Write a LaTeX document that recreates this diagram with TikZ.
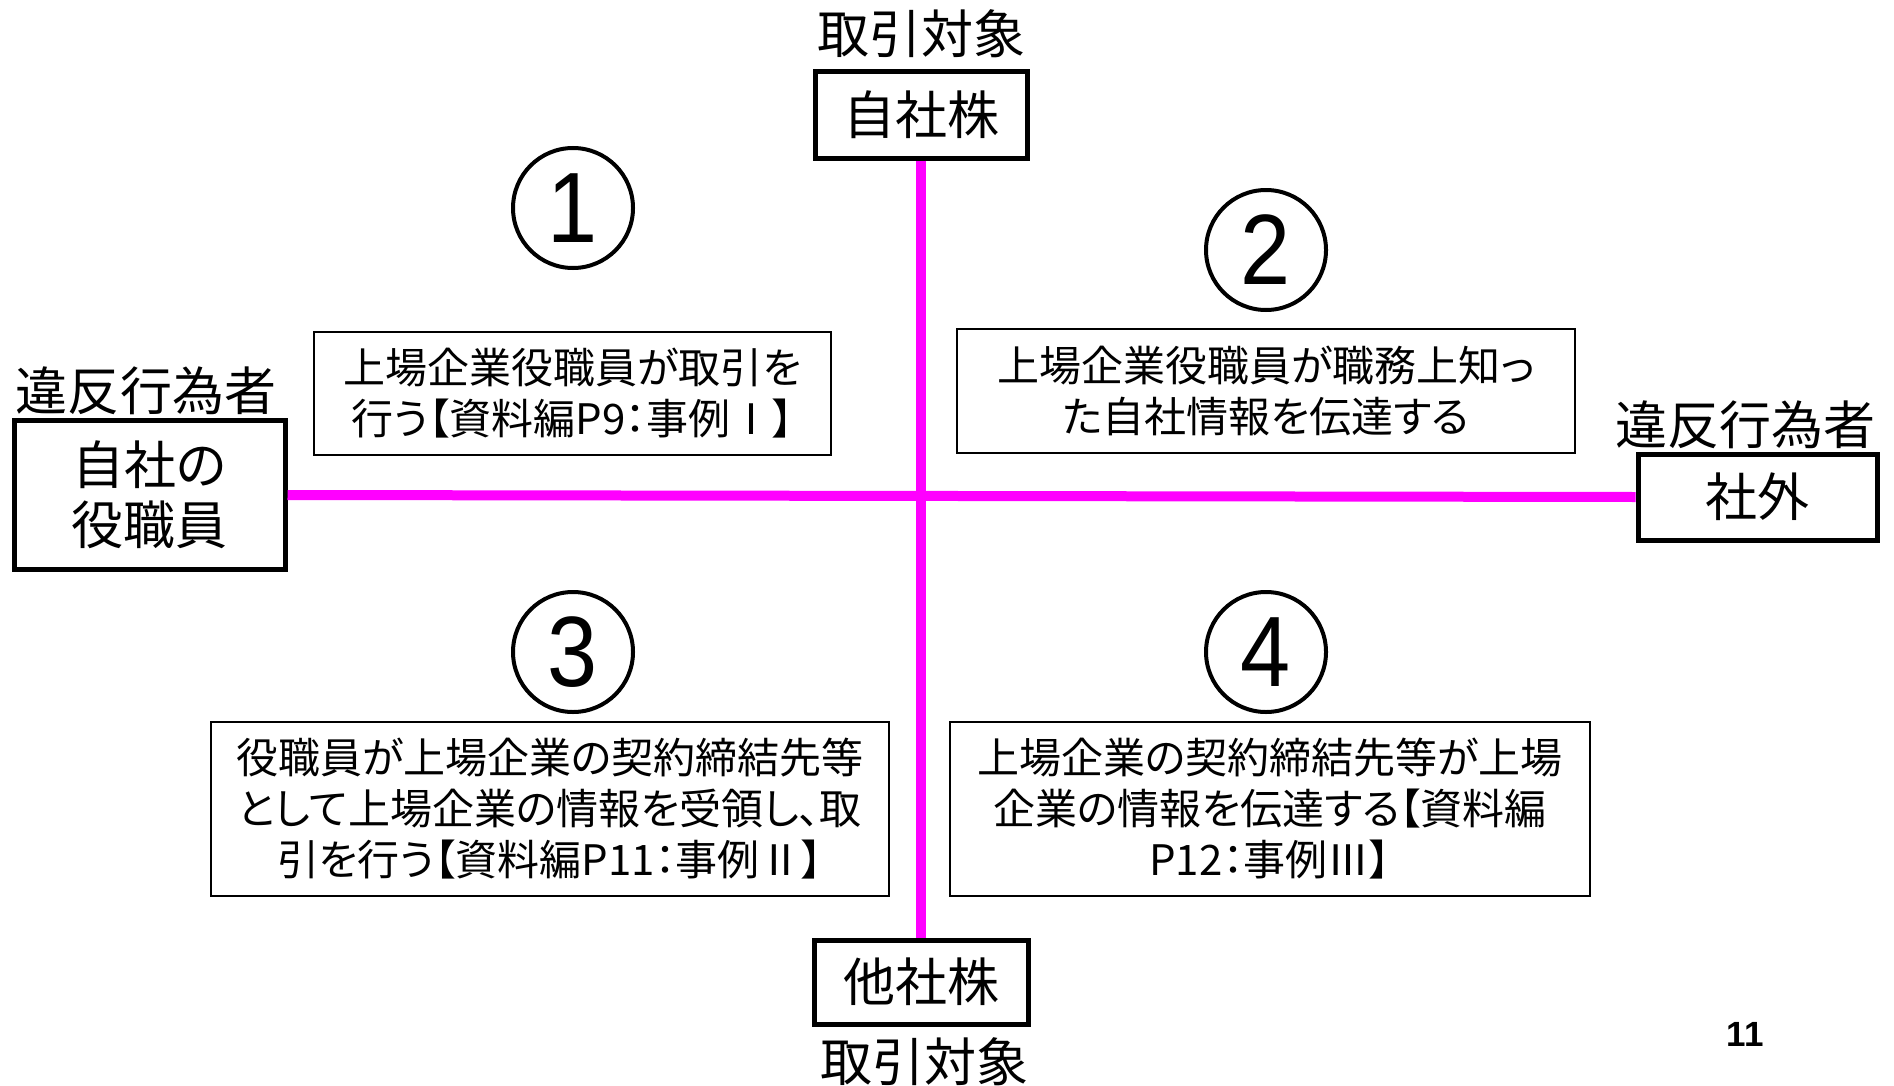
\documentclass[tikz,border=0pt]{standalone}
\usepackage{fontspec}
\setmainfont{Noto Sans CJK JP}[RawFeature=+palt]
\newfontfamily\latfont{Liberation Sans}
\newfontfamily\fullw{Noto Sans CJK JP}
\definecolor{mag}{HTML}{FF00FF}
\begin{document}
\begin{tikzpicture}[x=0.5pt,y=-0.5pt,
  bigbox/.style={draw=black,line width=2.5pt,fill=white,inner sep=0pt,font=\fontsize{26pt}{30pt}\selectfont,align=center},
  txtbox/.style={draw=black,line width=1pt,fill=white,inner sep=0pt,font=\fontsize{21pt}{25.5pt}\selectfont,align=center},
  lbl/.style={inner sep=0pt,font=\fontsize{26pt}{30pt}\selectfont},
  circnum/.style={circle,draw=black,line width=2pt,minimum size=60pt,inner sep=0pt,font=\latfont\fontsize{50pt}{52pt}\selectfont},
  magline/.style={draw=mag,line width=5pt}]
\useasboundingbox (0,0) rectangle (1894,1086);
% boxes
\node[bigbox,minimum width=106pt,minimum height=43pt] (top) at (921,115) {自社株};
\node[bigbox,minimum width=107pt,minimum height=42pt] (bot) at (921,982) {他社株};
\node[bigbox,minimum width=135.5pt,minimum height=74.5pt] (left) at (149.5,495) {自社の\\役職員};
\node[bigbox,minimum width=119.5pt,minimum height=43pt] (right) at (1757.5,497) {社外};
% labels
\node[lbl] (toplbl) at (921,34) {取引対象};
\node[lbl] (botlbl) at (924,1062) {取引対象};
\node[lbl] (leftlbl) at (146,391) {違反行為者};
\node[lbl] (rightlbl) at (1745,425) {違反行為者};
% axes
\draw[magline] (top.south) -- (bot.north);
\draw[magline] (left.east) -- (right.west);
% circled numbers
\node[circnum] (c1) at (573,208) {\scalebox{0.9}[1]{1}};
\node[circnum] (c2) at (1266,250) {\scalebox{0.9}[1]{2}};
\node[circnum] (c3) at (573,652) {\scalebox{0.9}[1]{3}};
\node[circnum] (c4) at (1266,652) {\scalebox{0.9}[1]{4}};
% text boxes
\node[txtbox,minimum width=258.5pt,minimum height=61.5pt] (b1) at (572.5,393.5) {上場企業役職員が取引を\\行う【資料編P9：事例{\fullw Ⅰ}】};
\node[txtbox,minimum width=309pt,minimum height=62pt] (b2) at (1266,391) {上場企業役職員が職務上知っ\\た自社情報を伝達する};
\node[txtbox,minimum width=339pt,minimum height=87pt] (b3) at (550,809) {役職員が上場企業の契約締結先等\\として上場企業の情報を受領し、取\\引を行う【資料編P11：事例{\fullw Ⅱ}】};
\node[txtbox,minimum width=320pt,minimum height=87pt] (b4) at (1270,809) {上場企業の契約締結先等が上場\\企業の情報を伝達する【資料編\\P12：事例{\fullw Ⅲ}】};
% page number
\node[inner sep=0pt,font=\latfont\bfseries\fontsize{17.5pt}{20pt}\selectfont] (pg) at (1745,1034) {11};
\end{tikzpicture}
\end{document}
